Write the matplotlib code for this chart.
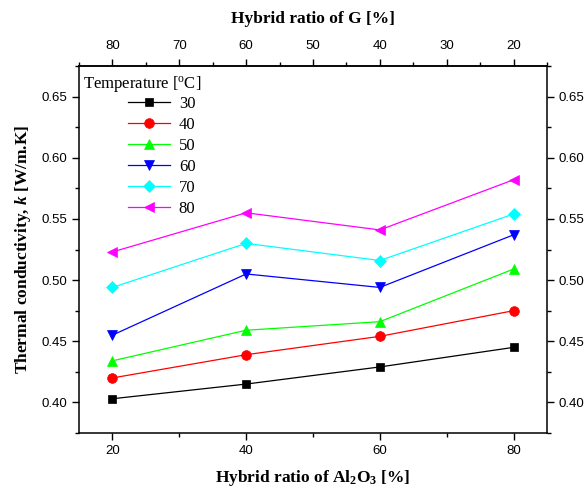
import matplotlib
matplotlib.use("Agg")
import matplotlib.pyplot as plt
from matplotlib.ticker import MultipleLocator, FormatStrFormatter

# Hybrid ratio of Al2O3 [%]
ratio_al2o3 = [20, 40, 60, 80]
# Temperatures [°C]
temperatures = [30, 40, 50, 60, 70, 80]
# Thermal conductivity [W/m.K] per temperature
k_30 = [0.403, 0.415, 0.429, 0.445]
k_40 = [0.420, 0.439, 0.454, 0.475]
k_50 = [0.434, 0.459, 0.466, 0.509]
k_60 = [0.455, 0.505, 0.494, 0.537]
k_70 = [0.494, 0.530, 0.516, 0.554]
k_80 = [0.523, 0.555, 0.541, 0.582]
series = [k_30, k_40, k_50, k_60, k_70, k_80]

colors = ["#000000", "#ff0000", "#00ff00", "#0000ff", "#00ffff", "#ff00ff"]
markers = ["s", "o", "^", "v", "D", "<"]
msizes = [5.8, 7, 7.5, 7.5, 6.3, 7.5]

plt.rcParams["font.family"] = ["Liberation Sans", "DejaVu Sans"]
plt.rcParams["font.size"] = 9.5
plt.rcParams["mathtext.fontset"] = "custom"
plt.rcParams["mathtext.rm"] = "Liberation Serif"
plt.rcParams["mathtext.it"] = "Liberation Serif:italic"
plt.rcParams["mathtext.bf"] = "Liberation Serif:bold"
plt.rcParams["mathtext.bfit"] = "Liberation Serif:bold:italic"

fig = plt.figure(figsize=(5.88, 4.90), dpi=100)
ax = fig.add_axes([79 / 588, 1 - 433 / 490, (547 - 79) / 588, (433 - 66) / 490])

for t, vals, c, m, ms in zip(temperatures, series, colors, markers, msizes):
    ax.plot(ratio_al2o3, vals, color=c, marker=m, markersize=ms, lw=0.9,
            markeredgewidth=0.5, label=str(t))

ax.set_xlim(15, 85)
ax.set_ylim(0.375, 0.675)
ax.xaxis.set_major_locator(MultipleLocator(20))
ax.xaxis.set_minor_locator(MultipleLocator(10))
ax.yaxis.set_major_locator(MultipleLocator(0.05))
ax.yaxis.set_minor_locator(MultipleLocator(0.025))
ax.yaxis.set_major_formatter(FormatStrFormatter("%.2f"))

ax.tick_params(which="both", direction="out", right=True, labelright=True,
               width=1.0, colors="black", labelsize=9.5)
ax.tick_params(which="major", length=5)
ax.tick_params(which="minor", length=3)
for side in ["left", "right", "top", "bottom"]:
    ax.spines[side].set_linewidth(1.1)

# Top axis: hybrid ratio of G is the complement of Al2O3
top = ax.secondary_xaxis("top", functions=(lambda x: 100 - x, lambda x: 100 - x))
top.xaxis.set_major_locator(MultipleLocator(10))
top.xaxis.set_minor_locator(MultipleLocator(5))
top.tick_params(which="both", direction="out", width=1.0, labelsize=9.5)
top.tick_params(which="major", length=5, pad=5)
top.tick_params(which="minor", length=3)
top.spines["top"].set_linewidth(1.1)
top.set_xlabel("Hybrid ratio of G [%]", fontfamily="Liberation Serif",
               fontweight="bold", fontsize=12.5, labelpad=12)

ax.set_xlabel(r"Hybrid ratio of Al$_\mathbf{2}$O$_\mathbf{3}$ [%]",
              fontfamily="Liberation Serif", fontweight="bold", fontsize=12.5,
              labelpad=8)
ax.set_ylabel(r"Thermal conductivity, $\mathbfit{k}$ [W/m.K]",
              fontfamily="Liberation Serif", fontweight="bold", fontsize=12.5,
              labelpad=6)

# Legend title and entries
fig.text(83 / 588, 1 - 84 / 490, r"Temperature [$^\mathrm{o}$C]",
         fontfamily="Liberation Serif", fontsize=12, va="center", ha="left")
leg = ax.legend(loc="upper left", bbox_to_anchor=((128 - 79) / 468, (433 - 96) / 367),
                frameon=False, prop={"family": "Liberation Serif", "size": 12},
                handlelength=2.5, handletextpad=0.55, labelspacing=0.30,
                borderpad=0.0, borderaxespad=0.0)

fig.savefig("out.png", dpi=100)
